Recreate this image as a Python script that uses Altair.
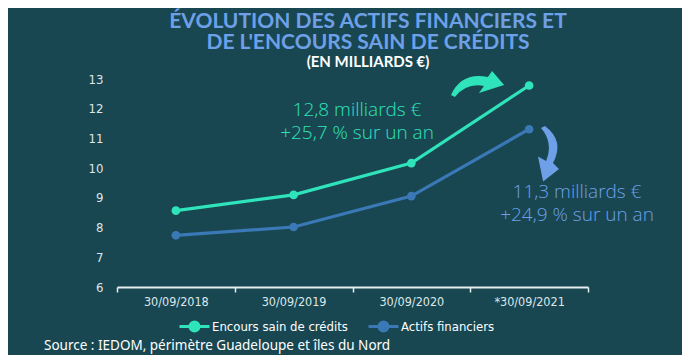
import altair as alt
import pandas as pd

dates = ["30/09/2018", "30/09/2019", "30/09/2020", "*30/09/2021"]
encours = [8.57, 9.1, 10.17, 12.78]
actifs = [7.74, 8.02, 9.06, 11.31]
series_names = ["Encours sain de crédits", "Actifs financiers"]
y_ticks = [6, 7, 8, 9, 10, 11, 12, 13]

title_lines = ["ÉVOLUTION DES ACTIFS FINANCIERS ET", "DE L'ENCOURS SAIN DE CRÉDITS"]
subtitle = "(EN MILLIARDS €)"
annot_teal = ["12,8 milliards €", "+25,7 % sur un an"]
annot_blue = ["11,3 milliards €", "+24,9 % sur un an"]
source = "Source : IEDOM, périmètre Guadeloupe et îles du Nord"

BG = "#184752"
TEAL = "#2fe3ba"
BLUE = "#3a78b6"
LIGHTBLUE = "#6ea0e8"
NARROW = "'DejaVu Sans Condensed', 'Liberation Sans', sans-serif"

rows = []
for d, v in zip(dates, encours):
    rows.append({"date": d, "serie": series_names[0], "value": v})
for d, v in zip(dates, actifs):
    rows.append({"date": d, "serie": series_names[1], "value": v})
df = pd.DataFrame(rows)

legend_path = "M -1 0 L 1 0 M 0.3 0 A 0.3 0.3 0 1 1 -0.3 0 A 0.3 0.3 0 1 1 0.3 0 Z"

x_enc = alt.X("date:N", sort=dates, bandPosition=0.5,
              scale=alt.Scale(type="band", paddingInner=0, paddingOuter=0),
              axis=alt.Axis(title=None, labelAngle=0, tickBand="extent",
                            domainColor="#e6eef0", domainWidth=2, tickColor="#e6eef0",
                            tickWidth=1.5, tickSize=5, labelColor="#dfe6e8",
                            labelFont=NARROW, labelFontSize=12.5,
                            labelPadding=3, grid=False))
y_enc = alt.Y("value:Q", scale=alt.Scale(domain=[6, 13], nice=False, zero=False),
              axis=alt.Axis(title=None, values=y_ticks, domain=False, ticks=False,
                            grid=False, labelColor="#dfe6e8",
                            labelFont=NARROW, labelFontSize=13,
                            labelPadding=14))
color_enc = alt.Color("serie:N", sort=series_names,
                      scale=alt.Scale(domain=series_names, range=[TEAL, BLUE]),
                      legend=alt.Legend(title=None, orient="none", direction="horizontal",
                                        columns=2, legendX=61, legendY=231,
                                        symbolType=legend_path, symbolSize=900,
                                        symbolStrokeWidth=3,
                                        labelColor="#ffffff", labelFontSize=13,
                                        labelFont=NARROW,
                                        labelOffset=1, columnPadding=14))

lines = alt.Chart(df).mark_line(strokeWidth=3.2).encode(x=x_enc, y=y_enc, color=color_enc)
points = alt.Chart(df).mark_point(filled=True, size=75, opacity=1).encode(
    x=x_enc, y=y_enc, color=alt.Color("serie:N", scale=alt.Scale(domain=series_names, range=[TEAL, BLUE]), legend=None))

def text_block(lines_txt, xv, yv, color, size, font, weight="normal", align="center", lh=None):
    return alt.Chart(pd.DataFrame({"t": ["\n".join(lines_txt)]})).mark_text(
        color=color, fontSize=size, font=font, fontWeight=weight, align=align,
        baseline="middle", lineBreak="\n", lineHeight=lh if lh else size * 1.2).encode(
        text="t:N", x=alt.value(xv), y=alt.value(yv))

title_layer = text_block(title_lines, 251, -57, LIGHTBLUE, 21, "Lato", "bold", lh=21)
sub_layer = text_block([subtitle], 251, -17, "#ffffff", 15, "Lato", "bold")
teal_layer = text_block(annot_teal, 240, 31, TEAL, 19, "Open Sans", 300, lh=23)
blue_layer = text_block(annot_blue, 460, 113, LIGHTBLUE, 19, "Open Sans", 300, lh=23)
src_layer = text_block([source], -73, 267, "#ffffff", 13.5, "Noto Sans", "normal", "left")

teal_arrow = "M -0.9 0.33 Q -0.55 -0.45 0.33 -0.27 L 0.47 -0.47 L 0.87 0 L 0.03 0.27 L 0.2 0.03 Q -0.4 -0.07 -0.77 0.4 Z"
blue_arrow = "M -0.17 -0.9 Q 0.5 -0.4 0.1 0.33 L 0.3 0.53 L -0.23 0.95 L -0.4 0.12 L -0.13 0.27 Q 0.12 -0.35 -0.3 -0.83 Z"

arrow1 = alt.Chart(pd.DataFrame({"a": [1]})).mark_point(
    shape=teal_arrow, filled=True, color=TEAL, opacity=1, size=3600, strokeWidth=0).encode(
    x=alt.value(361), y=alt.value(6))
arrow2 = alt.Chart(pd.DataFrame({"a": [1]})).mark_point(
    shape=blue_arrow, filled=True, color=LIGHTBLUE, opacity=1, size=3600, strokeWidth=0).encode(
    x=alt.value(433), y=alt.value(74))

chart = alt.layer(lines, points, arrow1, arrow2, title_layer, sub_layer,
                  teal_layer, blue_layer, src_layer).properties(
    width=471, height=208,
    autosize=alt.AutoSizeParams(type="none"),
    padding={"left": 109, "top": 71, "right": 94, "bottom": 68},
).configure(background=BG).configure_view(stroke=None)

chart.save("out.html", embed_options={"renderer": "svg", "actions": False})
